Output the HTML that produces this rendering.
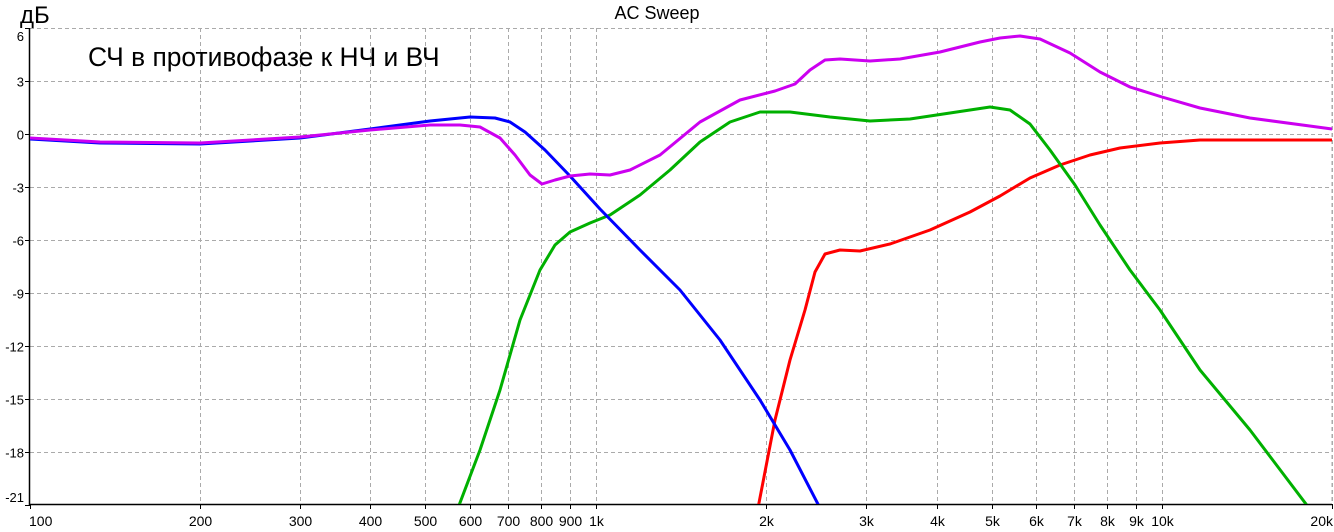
<!DOCTYPE html>
<html><head><meta charset="utf-8"><style>
html,body{margin:0;padding:0;background:#fff;}
svg{display:block;font-family:"Liberation Sans","DejaVu Sans",sans-serif;}
</style></head><body>
<svg width="1334" height="532" viewBox="0 0 1334 532" xmlns="http://www.w3.org/2000/svg">
<g id="grid" stroke="#aaa" stroke-width="1" stroke-dasharray="4,3" fill="none"></g>
<line x1="29.5" y1="28" x2="29.5" y2="505" stroke="#000" stroke-width="1.5"/>
<line x1="29.5" y1="504.5" x2="1332" y2="504.5" stroke="#000" stroke-width="1.5"/>
<g id="ticks" stroke="#000" stroke-width="1"></g>
<g id="xl" font-size="14" text-anchor="middle" fill="#000"></g>
<g id="yl" font-size="13" text-anchor="end" fill="#000"></g>
<text x="657" y="19" font-size="18" text-anchor="middle">AC Sweep</text>
<text x="20" y="23" font-size="24">дБ</text>
<text x="88" y="66" font-size="26.4">СЧ в противофазе к НЧ и ВЧ</text>
<defs><clipPath id="c"><rect x="30" y="28" width="1303" height="476"/></clipPath></defs>
<g clip-path="url(#c)" fill="none" stroke-width="3" stroke-linejoin="round">
<polyline stroke="#ff0000" points="758,508 775,420 790,360 805,310 815,272 825,254 840,250 860,251 890,244 930,230 970,212 1000,196 1030,178 1060,165 1090,155 1120,148 1160,143 1200,140 1250,140 1332,140"/>
<polyline stroke="#00b000" points="458,508 480,450 500,390 520,320 540,270 555,245 570,232 590,223 610,215 640,195 670,170 700,142 730,122 760,112 790,112 830,117 870,121 910,119 950,113 990,107 1010,110 1030,124 1050,150 1075,185 1100,225 1130,270 1160,310 1200,370 1250,430 1309,508"/>
<polyline stroke="#0000ff" points="30,139 100,143 200,144 300,138 370,129 430,121 470,117 495,118 510,122 525,132 545,150 570,176 600,209 640,250 680,290 720,340 760,400 790,450 820,508"/>
<polyline stroke="#cc00f0" points="30,138 100,142 200,143 300,137 370,130 430,125 460,125 480,127 500,138 515,155 530,175 542,184 555,180 570,176 590,174 610,175 630,170 660,155 700,122 740,100 775,91 795,84 810,70 825,60 840,59 870,61 900,59 940,52 980,42 1000,38 1020,36 1040,39 1070,53 1100,72 1130,87 1162,97 1200,108 1250,118 1332,129"/>
</g>
<script>
var ns="http://www.w3.org/2000/svg";
function X(f){return 29.5+566.25*Math.log10(f/100);}
function Y(d){return 134-17.67*d;}
function el(p,t,a,txt){var e=document.createElementNS(ns,t);for(var k in a)e.setAttribute(k,a[k]);if(txt)e.textContent=txt;document.getElementById(p).appendChild(e);}
var fs=[100,200,300,400,500,600,700,800,900,1000,2000,3000,4000,5000,6000,7000,8000,9000,10000,20000];
fs.forEach(function(f){var x=Math.round(X(f))+0.5;if(f>100)el("grid","line",{x1:x,y1:28,x2:x,y2:504});
el("ticks","line",{x1:x,y1:504,x2:x,y2:509});
var l=f>=1000?(f/1000)+"k":""+f;var a={x:x,y:526};if(f==100){a.x=29;a["text-anchor"]="start";}if(f==20000){a.x=1333;a["text-anchor"]="end";}el("xl","text",a,l);});
for(var d=6;d>=-21;d-=3){var y=Math.round(Y(d))+0.5;if(d>-21)el("grid","line",{x1:30,y1:y,x2:1332,y2:y});
el("ticks","line",{x1:25,y1:y,x2:30,y2:y});var ty=y+5;if(d==6)ty=41;if(d==-21)ty=502;el("yl","text",{x:24,y:ty},""+d);}
el("grid","line",{x1:1332,y1:28,x2:1332,y2:504});
</script>
</svg>
</body></html>
